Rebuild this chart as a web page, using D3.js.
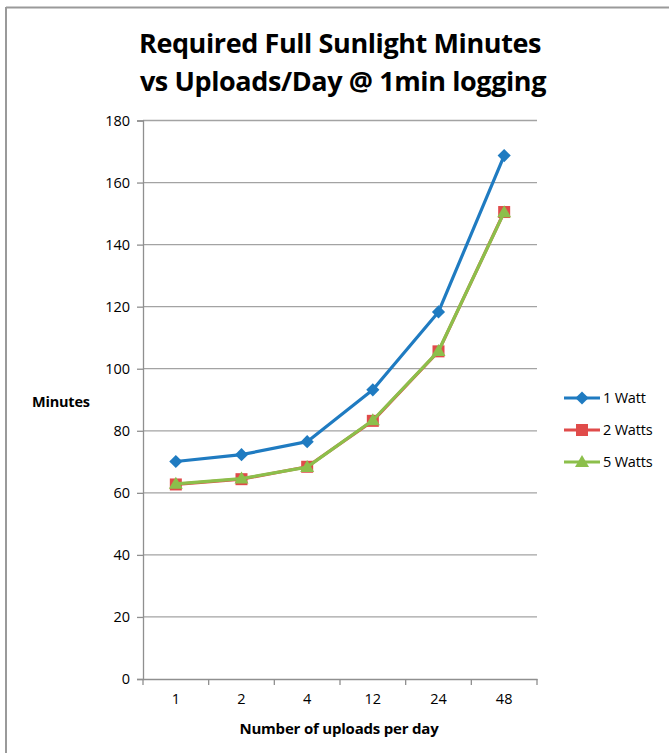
<!DOCTYPE html>
<html>
<head>
<meta charset="utf-8">
<script src="https://cdn.jsdelivr.net/npm/d3@7"></script>
<style>
  body { margin: 0; background: #fff; }
  text { font-family: "Open Sans", "DejaVu Sans", sans-serif; fill: #000; }
</style>
</head>
<body>
<svg></svg>
<script>
// data
const uploads = ["1", "2", "4", "12", "24", "48"];
const oneWatt = [70.1, 72.3, 76.5, 93.2, 118.3, 168.7];
const twoWatts = [62.7, 64.4, 68.4, 83.2, 105.6, 150.5];
const fiveWatts = [62.9, 64.6, 68.3, 83.4, 105.7, 150.4];
const yTicks = [0, 20, 40, 60, 80, 100, 120, 140, 160, 180];

const series = [
  {name: "1 Watt", values: oneWatt, color: "#1f7bc1", shape: "diamond"},
  {name: "2 Watts", values: twoWatts, color: "#e04b4a", shape: "square"},
  {name: "5 Watts", values: fiveWatts, color: "#8cbf4b", shape: "triangle"}
];

//setting
const Width = 669;
const Height = 753;
const svg = d3.select("svg").attr("width", Width).attr("height", Height);

// frame (only top + left visible)
svg.append("line").attr("x1", 6).attr("x2", Width).attr("y1", 7.5).attr("y2", 7.5)
  .attr("stroke", "#9a9a9a").attr("stroke-width", 2);
svg.append("line").attr("x1", 6).attr("x2", 6).attr("y1", 7).attr("y2", Height)
  .attr("stroke", "#9a9a9a").attr("stroke-width", 2);

const x = d3.scaleBand().domain(uploads).range([143, 537]);
const y = d3.scaleLinear().domain([0, 180]).range([679, 120.5]);

// gridlines
svg.append("g")
  .selectAll("line")
  .data(yTicks.slice(1))
  .join("line")
  .attr("x1", 143).attr("x2", 537)
  .attr("y1", d => y(d)).attr("y2", d => y(d))
  .attr("stroke", "#a3a3a3").attr("stroke-width", 1.3);

// y axis
const yAxis = svg.append("g")
  .attr("transform", "translate(143,0)")
  .call(d3.axisLeft(y).tickValues(yTicks).tickSize(6).tickPadding(7));
yAxis.select(".domain").attr("stroke", "#8f8f8f").attr("stroke-width", 1.3);
yAxis.selectAll(".tick line").attr("stroke", "#8f8f8f").attr("stroke-width", 1.3);
yAxis.selectAll("text").style("font-size", "14.5px").style("font-family", "Open Sans, sans-serif");

// x axis
const xAxis = svg.append("g")
  .attr("transform", "translate(0,679)")
  .call(d3.axisBottom(x).tickSize(0).tickPadding(15));
xAxis.select(".domain").attr("stroke", "#8f8f8f").attr("stroke-width", 1.3);
xAxis.selectAll("text").style("font-size", "14.5px").style("font-family", "Open Sans, sans-serif");
// category boundary ticks
svg.append("g")
  .selectAll("line")
  .data(uploads.map(d => x(d)).concat([x.range()[1]]))
  .join("line")
  .attr("x1", d => d).attr("x2", d => d)
  .attr("y1", 679).attr("y2", 685)
  .attr("stroke", "#8f8f8f").attr("stroke-width", 1.3);

const cx = d => x(d) + x.bandwidth() / 2;

function marker(g, shape, color, px, py) {
  if (shape === "diamond") {
    g.append("path").attr("d", d3.symbol(d3.symbolDiamond2, 110)())
      .attr("transform", `translate(${px},${py})`).attr("fill", color);
  } else if (shape === "square") {
    g.append("rect").attr("x", px - 6).attr("y", py - 6).attr("width", 12).attr("height", 12)
      .attr("fill", color);
  } else {
    g.append("path").attr("d", `M${px},${py - 7}L${px + 7},${py + 5}L${px - 7},${py + 5}Z`)
      .attr("fill", color);
  }
}

const line = d3.line().x((d, i) => cx(uploads[i])).y(d => y(d));

series.forEach(s => {
  const g = svg.append("g");
  g.append("path").datum(s.values).attr("d", line)
    .attr("fill", "none").attr("stroke", s.color).attr("stroke-width", 3.2)
    .attr("stroke-linejoin", "round");
  s.values.forEach((v, i) => marker(g, s.shape, s.color, cx(uploads[i]), y(v)));
});

// legend
const legend = svg.append("g");
series.forEach((s, i) => {
  const ly = 398 + i * 32;
  legend.append("line").attr("x1", 564).attr("x2", 600).attr("y1", ly).attr("y2", ly)
    .attr("stroke", s.color).attr("stroke-width", 3.2);
  marker(legend, s.shape, s.color, 582, ly);
  legend.append("text").attr("x", 603).attr("y", ly + 5)
    .style("font-size", "14.5px").style("letter-spacing", "-0.2px").text(s.name);
});

// titles
svg.append("text").attr("x", 340).attr("y", 53).attr("text-anchor", "middle")
  .style("font-size", "27px").style("font-weight", "bold").style("letter-spacing", "-0.4px")
  .text("Required Full Sunlight Minutes");
svg.append("text").attr("x", 343).attr("y", 91).attr("text-anchor", "middle")
  .style("font-size", "27px").style("font-weight", "bold").style("letter-spacing", "-0.4px")
  .text("vs Uploads/Day @ 1min logging");

svg.append("text").attr("x", 339).attr("y", 734).attr("text-anchor", "middle")
  .style("font-size", "15px").style("font-weight", "bold").style("letter-spacing", "-0.2px")
  .text("Number of uploads  per day");

svg.append("text").attr("x", 32).attr("y", 407)
  .style("font-size", "14.5px").style("font-weight", "bold").style("letter-spacing", "-0.2px")
  .text("Minutes");
</script>
</body>
</html>
